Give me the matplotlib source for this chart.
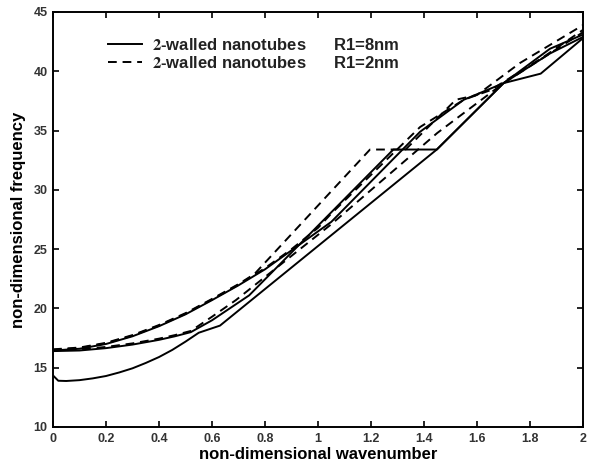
import matplotlib.pyplot as plt

# wavenumber / frequency traces
# R1 = 8nm (solid)
s1_x = [0.0, 0.02, 0.05, 0.1, 0.15, 0.2, 0.25, 0.3, 0.35, 0.4, 0.45, 0.5, 0.55, 0.63,
        1.448, 1.70, 1.84, 2.0]
s1_y = [14.35, 13.9, 13.88, 13.95, 14.1, 14.3, 14.6, 14.95, 15.4, 15.9, 16.5, 17.2, 17.95, 18.55,
        33.4, 39.0, 39.8, 42.8]

s2_x = [0.0, 0.1, 0.2, 0.3, 0.4, 0.46, 0.52, 0.6, 0.74, 1.284, 1.448, 1.70, 1.875, 2.0]
s2_y = [16.4, 16.45, 16.65, 16.95, 17.35, 17.65, 18.0, 19.0, 21.1, 33.4, 33.4, 39.0, 41.9, 43.1]

s3_x = [0.0, 0.1, 0.2, 0.3, 0.4, 0.5, 0.6, 0.7, 0.8, 0.9, 1.0, 1.05, 1.385, 1.55, 1.70, 1.875, 2.0]
s3_y = [16.45, 16.6, 17.0, 17.65, 18.5, 19.5, 20.7, 21.95, 23.3, 24.9, 26.5, 27.3, 34.9, 37.6, 39.0, 41.5, 42.9]

# R1 = 2nm (dashed)
d1_x = [0.0, 0.1, 0.2, 0.3, 0.4, 0.5, 0.6, 0.7, 0.76, 1.196, 1.33, 1.52, 1.60, 1.762, 2.0]
d1_y = [16.55, 16.7, 17.1, 17.75, 18.6, 19.6, 20.8, 22.05, 22.9, 33.4, 33.4, 37.6, 38.0, 40.7, 43.9]

d2_x = [0.0, 0.1, 0.2, 0.3, 0.4, 0.5, 0.6, 0.7, 0.8, 0.9, 1.0, 1.05, 1.385, 1.55, 1.65, 1.85, 2.0]
d2_y = [16.5, 16.65, 17.05, 17.7, 18.55, 19.55, 20.75, 22.0, 23.4, 25.0, 26.8, 28.0, 35.3, 37.6, 38.4, 41.2, 43.5]

d3_x = [0.0, 0.1, 0.2, 0.3, 0.4, 0.46, 0.52, 0.6, 0.69, 1.05, 1.45, 1.70, 2.0]
d3_y = [16.5, 16.55, 16.75, 17.05, 17.45, 17.75, 18.1, 19.3, 20.7, 27.1, 34.8, 39.0, 43.3]

xticks = [0, 0.2, 0.4, 0.6, 0.8, 1, 1.2, 1.4, 1.6, 1.8, 2]
xtick_labels = ['0', '0.2', '0.4', '0.6', '0.8', '1', '1.2', '1.4', '1.6', '1.8', '2']
yticks = [10, 15, 20, 25, 30, 35, 40, 45]

plt.rcParams['font.family'] = ['Liberation Sans', 'DejaVu Sans']
plt.rcParams['mathtext.fontset'] = 'stix'

fig = plt.figure(figsize=(5.92, 4.70), dpi=100)
ax = fig.add_axes([0.0895, 0.0915, 0.8955, 0.883])

dash = (0, (4.5, 3))
lw = 1.4
h1, = ax.plot(s1_x, s1_y, color='black', lw=lw)
ax.plot(s2_x, s2_y, color='black', lw=lw)
ax.plot(s3_x, s3_y, color='black', lw=lw)
h2, = ax.plot(d1_x, d1_y, color='black', lw=lw, linestyle=dash)
ax.plot(d2_x, d2_y, color='black', lw=lw, linestyle=dash)
ax.plot(d3_x, d3_y, color='black', lw=lw, linestyle=dash)

ax.set_xlim(0, 2)
ax.set_ylim(10, 45)
ax.set_xticks(xticks)
ax.set_xticklabels(xtick_labels)
ax.set_yticks(yticks)
ax.tick_params(direction='in', top=True, right=True, length=4, width=1.2,
               labelsize=9, pad=4)
for lab in ax.get_xticklabels() + ax.get_yticklabels():
    lab.set_fontweight('bold')
    lab.set_color('#333333')
for sp in ax.spines.values():
    sp.set_linewidth(1.4)

ax.set_xlabel('non-dimensional wavenumber', fontsize=12, fontweight='bold', labelpad=2)
ax.set_ylabel('non-dimensional frequency', fontsize=12, fontweight='bold', labelpad=5)

leg = ax.legend([h1, h2],
                ['$\\mathbf{2}$-walled nanotubes      R1=8nm',
                 '$\\mathbf{2}$-walled nanotubes      R1=2nm'],
                loc='upper left', bbox_to_anchor=(0.092, 0.955), frameon=False,
                prop={'size': 12, 'weight': 'bold'}, handlelength=2.0, handletextpad=0.6,
                labelspacing=0.1, borderaxespad=0)
for t in leg.get_texts():
    t.set_color('#222222')

fig.savefig('out.png', dpi=100)
